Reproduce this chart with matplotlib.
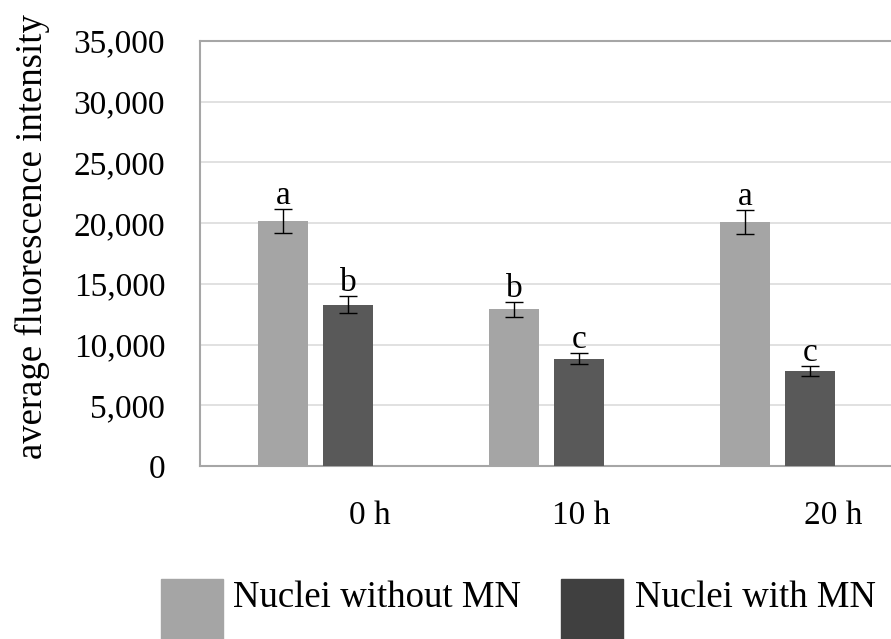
import matplotlib.pyplot as plt
from matplotlib.patches import Rectangle
import numpy as np

# data
times = ['0 h', '10 h', '20 h']
without_mn = [20200, 12900, 20100]
without_err = [1000, 630, 1000]
with_mn = [13300, 8850, 7800]
with_err = [680, 440, 410]
letters_without = ['a', 'b', 'a']
letters_with = ['b', 'c', 'c']

light = '#A5A5A5'
dark = '#595959'
dark_legend = '#404040'
spine_c = '#A6A6A6'
grid_c = '#D9D9D9'

plt.rcParams['font.family'] = ['Liberation Serif', 'DejaVu Serif']

W, H = 891, 639
fig = plt.figure(figsize=(W / 100, H / 100), dpi=100)
ax = fig.add_axes([200 / W, 1 - 466 / H, 693 / W, 425 / H])

x = np.arange(len(times))
bw = 0.217
off = 0.1407
ekw = dict(ecolor='black', elinewidth=1.0, capsize=6.5, capthick=1.0)
ax.bar(x - off, without_mn, bw, yerr=without_err, color=light, error_kw=ekw, zorder=3)
ax.bar(x + off, with_mn, bw, yerr=with_err, color=dark, error_kw=ekw, zorder=3)

for i in range(len(times)):
    ax.annotate(letters_without[i], (x[i] - off, without_mn[i] + without_err[i]),
                xytext=(0, 3.5), textcoords='offset points', ha='center', va='baseline',
                fontsize=24)
    ax.annotate(letters_with[i], (x[i] + off, with_mn[i] + with_err[i]),
                xytext=(0, 3.5), textcoords='offset points', ha='center', va='baseline',
                fontsize=24)

ax.set_xlim(-0.5, 2.5)
ax.set_ylim(0, 35000)
ax.set_yticks(np.arange(0, 35001, 5000))
ax.set_yticklabels([f'{v:,}' for v in range(0, 35001, 5000)])
# category labels sit to the right of the group centres in the original
label_shift = [0.236, 0.152, 0.242]
ax.set_xticks(x + np.array(label_shift))
ax.set_xticklabels(times)
ax.tick_params(axis='both', length=0, labelsize=24)
ax.tick_params(axis='y', pad=25)
ax.tick_params(axis='x', pad=25)

ax.grid(axis='y', color=grid_c, linewidth=1.1, zorder=0)
ax.set_axisbelow(True)
for s in ['left', 'bottom', 'top']:
    ax.spines[s].set_color(spine_c)
    ax.spines[s].set_linewidth(1.5)
ax.spines['right'].set_visible(False)

ax.set_ylabel('average fluorescence intensity', fontsize=26.5)
ax.yaxis.set_label_coords((50 - 200) / 693, (466 - 237) / 425)

# legend, partly cut off by the lower edge as in the original
leg_items = [('Nuclei without MN', light, 161, 233), ('Nuclei with MN', dark_legend, 561, 635)]
for label, col, px, tx in leg_items:
    fig.patches.append(Rectangle((px / W, -0.05), 62 / W, (1 - 579 / H) + 0.05,
                                 transform=fig.transFigure, color=col, figure=fig))
    fig.text(tx / W, 1 - 607 / H, label, fontsize=26.5, ha='left', va='baseline')

fig.savefig('out.png', dpi=100)
